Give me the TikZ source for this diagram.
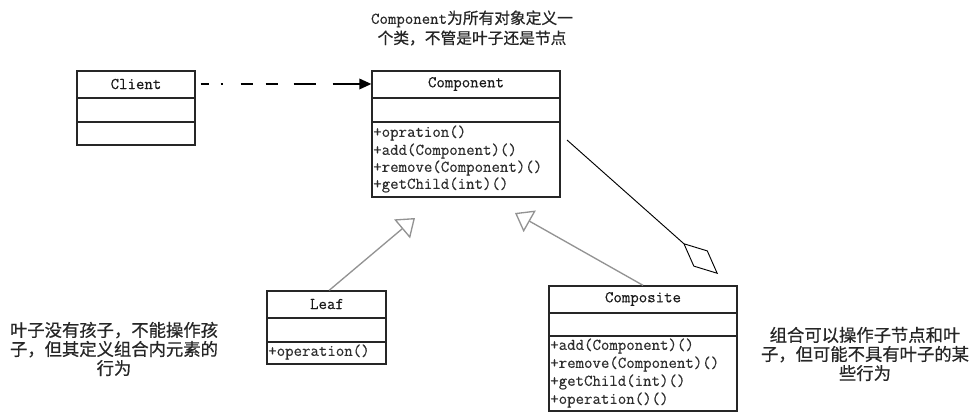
\documentclass[tikz,border=0pt]{standalone}
\usepackage{fontspec}
\newfontfamily\cjk{Noto Sans CJK SC}[FakeBold=0.6]
\newfontfamily\clsfont{Latin Modern Mono}[FakeBold=0.4]
\usetikzlibrary{arrows.meta,fit}
\begin{document}
\begin{tikzpicture}[x=0.75pt,y=-0.75pt,
  box/.style={draw=gray!30!black, line width=1pt, inner sep=0pt},
  div/.style={draw=gray!30!black, line width=1pt},
  head/.style={font=\clsfont\fontsize{12.3pt}{13pt}\selectfont, text=black!90, inner sep=0pt},
  meth/.style={font=\clsfont\fontsize{12.3pt}{13pt}\selectfont, text=gray!35!black, inner sep=0pt, anchor=west},
  note/.style={font=\cjk\fontsize{13pt}{14.3pt}\selectfont, align=center, inner sep=0pt, text=black!85},
  gen/.style={draw=gray!85, line width=1pt, -{Triangle[open, length=12.7pt, width=18.5pt]}},
  agg/.style={draw=black, line width=0.7pt, -{Diamond[open, length=35pt, width=16pt]}},
  dep/.style={draw=black, line width=1pt,
    dash pattern=on 6pt off 9pt on 1.5pt off 13.5pt on 9pt off 9.75pt on 9pt off 12pt on 16.5pt off 12.75pt on 40pt,
    -{Triangle[length=9pt, width=8pt]}}
]
\useasboundingbox (0,0) rectangle (977,420);

% Client
\node[box, fit={(77,71)(195,145)}] (client) {};
\draw[div] (77,98) -- (195,98);
\draw[div] (77,122) -- (195,122);
\node[head] (clientH) at (136,84) {Client};

% Component
\node[box, fit={(372,71)(560,197)}] (comp) {};
\draw[div] (372,98) -- (560,98);
\draw[div] (372,122) -- (560,122);
\node[head] (compH) at (466,84) {Component};
\node[meth] (cm1) at (373,133) {+opration()};
\node[meth] (cm2) at (373,151) {+add(Component)()};
\node[meth] (cm3) at (373,168) {+remove(Component)()};
\node[meth] (cm4) at (373,185) {+getChild(int)()};

% Leaf
\node[box, fit={(267,291)(386,364)}] (leaf) {};
\draw[div] (267,318) -- (386,318);
\draw[div] (267,342) -- (386,342);
\node[head] (leafH) at (327,304) {Leaf};
\node[meth] (lm1) at (268,352) {+operation()};

% Composite
\node[box, fit={(549,286)(737,411)}] (compo) {};
\draw[div] (549,313) -- (737,313);
\draw[div] (549,336) -- (737,336);
\node[head] (compoH) at (643,299) {Composite};
\node[meth] (pm1) at (550,346) {+add(Component)()};
\node[meth] (pm2) at (550,364) {+remove(Component)()};
\node[meth] (pm3) at (550,382) {+getChild(int)()};
\node[meth] (pm4) at (550,400) {+operation()()};

% notes
\node[note, font=\cjk\fontsize{11.8pt}{15pt}\selectfont] (ntop) at (472,28)
  {{\clsfont\fontsize{12.3pt}{13pt}\selectfont Component}为所有对象定义一\\个类，不管是叶子还是节点};
\node[note] (nleft) at (114,349) {叶子没有孩子，不能操作孩\\子，但其定义组合内元素的\\行为};
\node[note] (nright) at (865,354) {组合可以操作子节点和叶\\子，但可能不具有叶子的某\\些行为};

% connectors
\coordinate (leafTip) at (415,218);
\coordinate (compoTip) at (515,213);
\coordinate (aggStart) at (567,140);
\coordinate (aggEnd) at (718,274);
\draw[dep] ([xshift=3.75pt]client.east |- clientH) -- (comp.west |- clientH);
\draw[gen] ([xshift=2pt]leaf.north) -- (leafTip);
\draw[gen] (compo.north) -- (compoTip);
\draw[agg] (aggStart) -- (aggEnd);
\end{tikzpicture}
\end{document}
